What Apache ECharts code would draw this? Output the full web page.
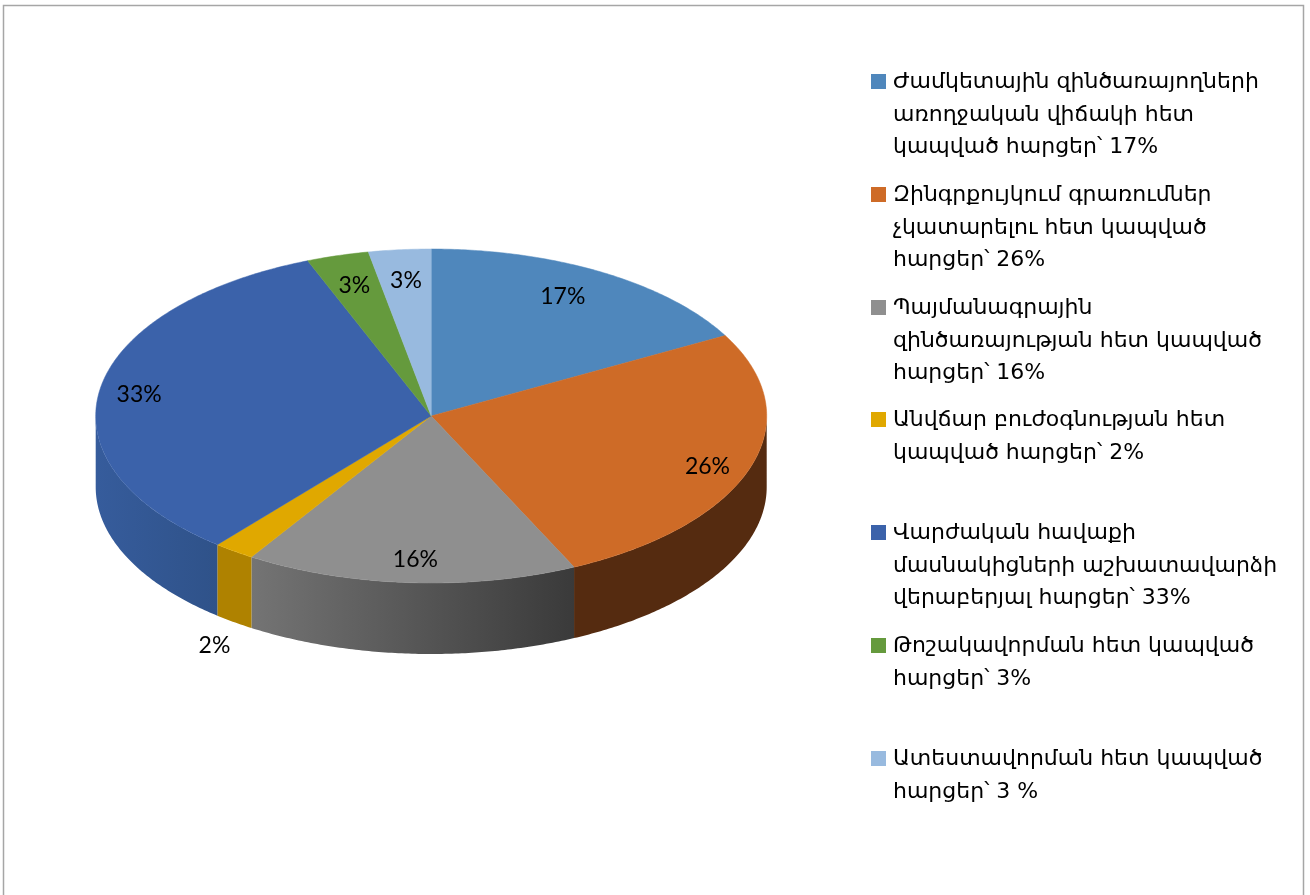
<!DOCTYPE html>
<html>
<head>
<meta charset="utf-8">
<style>html,body{margin:0;padding:0;background:#fff;overflow:hidden}#c{width:1310px;height:895px}</style>
<script src="https://cdn.jsdelivr.net/npm/echarts@6/dist/echarts.min.js"></script>
</head>
<body>
<div id="c"></div>
<script>
// data
const sliceValues = [17, 26, 16, 2, 33, 3, 3];
const sliceLabels = ['17%', '26%', '16%', '2%', '33%', '3%', '3%'];
const legendLabels = [
  'Ժամկետային զինծառայողների\nառողջական վիճակի հետ\nկապված հարցեր՝ 17%',
  'Զինգրքույկում գրառումներ\nչկատարելու հետ կապված\nհարցեր՝ 26%',
  'Պայմանագրային\nզինծառայության հետ կապված\nհարցեր՝ 16%',
  'Անվճար բուժօգնության հետ\nկապված հարցեր՝ 2%',
  'Վարժական հավաքի\nմասնակիցների աշխատավարձի\nվերաբերյալ հարցեր՝ 33%',
  'Թոշակավորման հետ կապված\nհարցեր՝ 3%',
  'Ատեստավորման հետ կապված\nհարցեր՝ 3 %'
];
// styles and layout
const topColors = ['#4f87bc', '#ce6b27', '#8f8f8f', '#e0a800', '#3b62aa', '#659a3d', '#98badf'];
const sideColors = [
  '#3b658c', '#552b10',
  ['#747474', '#3a3a3a'],
  '#af8200',
  ['#365c9c', '#2f5289'],
  '#4c742e', '#7290b0'
];
const legendTop = [74, 187, 300, 412, 525, 638, 751];
const labelOffsets = [[-5, -4], [21, 9], [1, 10], [-59, 121], [-27, -1], [-2, -2.5], [0, -2.5]];
const CX = 431.2, CY = 416, RX = 335.5, RY = 167, DEPTH = 71;
const LABEL_R = 0.8;

const total = sliceValues.reduce((a, b) => a + b, 0);
function bounds(i) {
  let s = 0;
  for (let k = 0; k < i; k++) s += sliceValues[k];
  return [s / total * 2 * Math.PI, (s + sliceValues[i]) / total * 2 * Math.PI];
}
function pt(a, dy) {
  return [CX + RX * Math.sin(a), CY - RY * Math.cos(a) + (dy || 0)];
}
function arc(a0, a1, dy) {
  const n = Math.max(2, Math.ceil((a1 - a0) / 0.01));
  const out = [];
  for (let i = 0; i <= n; i++) out.push(pt(a0 + (a1 - a0) * i / n, dy));
  return out;
}
function fill(c) {
  if (!Array.isArray(c)) return c;
  return new echarts.graphic.LinearGradient(0, 0, 1, 0, [
    { offset: 0, color: c[0] }, { offset: 1, color: c[1] }
  ]);
}

const chart = echarts.init(document.getElementById('c'), null, { renderer: 'canvas' });
const legendGraphics = [];
legendLabels.forEach((t, i) => {
  legendGraphics.push({
    type: 'rect', silent: true,
    shape: { x: 871, y: legendTop[i], width: 15, height: 15 },
    style: { fill: topColors[i] }
  });
  legendGraphics.push({
    type: 'text', silent: true, x: 893, y: legendTop[i] - 7.5,
    style: {
      text: t, fill: '#000', font: '22px "DejaVu Sans"',
      lineHeight: 32.5, align: 'left', verticalAlign: 'top'
    }
  });
});
legendGraphics.push({
  type: 'rect', silent: true,
  shape: { x: 3.5, y: 5.5, width: 1300, height: 900 },
  style: { fill: 'none', stroke: '#a6a6a6', lineWidth: 1.5 }
});

chart.setOption({
  animation: false,
  backgroundColor: '#fff',
  graphic: legendGraphics,
  series: [
    {
      type: 'custom', name: 'side', coordinateSystem: 'none', silent: true,
      data: sliceValues,
      renderItem(params) {
        const [a0, a1] = bounds(params.dataIndex);
        const lo = Math.max(a0, Math.PI / 2), hi = Math.min(a1, 3 * Math.PI / 2);
        if (hi <= lo) return { type: 'group', children: [] };
        const pts = arc(lo, hi, 0).concat(arc(lo, hi, DEPTH).reverse());
        return { type: 'polygon', shape: { points: pts }, style: { fill: fill(sideColors[params.dataIndex]) } };
      }
    },
    {
      type: 'custom', name: 'top', coordinateSystem: 'none', silent: true,
      data: sliceValues,
      renderItem(params) {
        const i = params.dataIndex;
        const [a0, a1] = bounds(i);
        const pts = [[CX, CY]].concat(arc(a0, a1, 0));
        return { type: 'polygon', shape: { points: pts },
          style: { fill: topColors[i], stroke: topColors[i], lineWidth: 0.5 } };
      }
    },
    {
      type: 'custom', name: 'labels', coordinateSystem: 'none', silent: true, z: 5,
      data: sliceValues,
      renderItem(params) {
        const i = params.dataIndex;
        const [a0, a1] = bounds(i);
        const m = (a0 + a1) / 2;
        return {
          type: 'text',
          x: CX + RX * LABEL_R * Math.sin(m) + labelOffsets[i][0],
          y: CY - RY * LABEL_R * Math.cos(m) + labelOffsets[i][1],
          style: { text: sliceLabels[i], fill: '#000', font: '23px Lato', align: 'center', verticalAlign: 'middle' }
        };
      }
    }
  ]
});
</script>
</body>
</html>
